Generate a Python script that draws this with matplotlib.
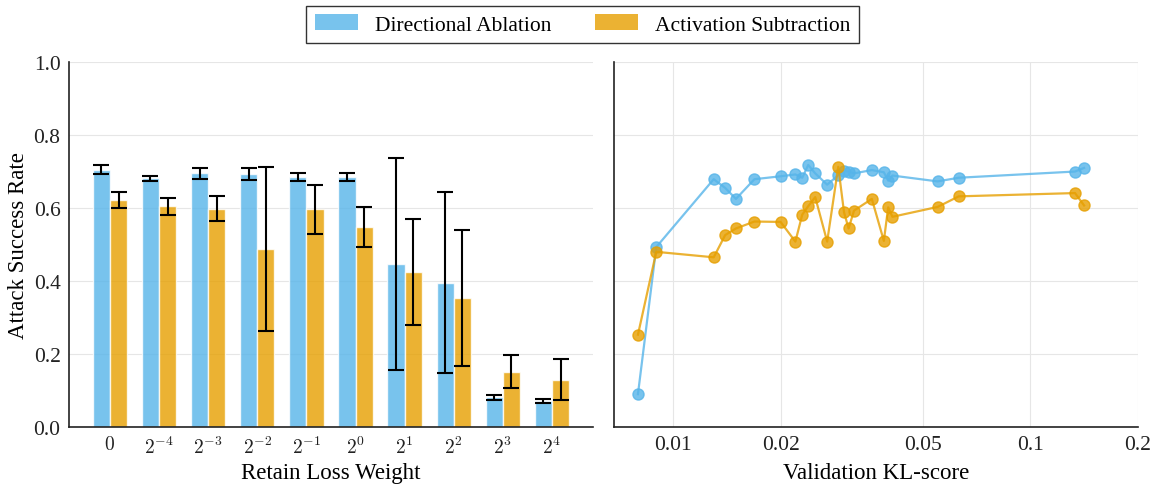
import numpy as np
import matplotlib
matplotlib.use("Agg")
import matplotlib.pyplot as plt
from matplotlib.patches import Patch
from matplotlib.ticker import FixedLocator, FixedFormatter, NullLocator

plt.rcParams["font.family"] = ["Liberation Serif", "DejaVu Serif"]
plt.rcParams["mathtext.fontset"] = "cm"

BLUE = "#56B4E9"
ORANGE = "#E69F00"

# left panel: retain loss weight sweep
weight_labels = ["$0$", "$2^{-4}$", "$2^{-3}$", "$2^{-2}$", "$2^{-1}$",
                 "$2^{0}$", "$2^{1}$", "$2^{2}$", "$2^{3}$", "$2^{4}$"]
ablation_mean = [0.705, 0.682, 0.695, 0.693, 0.684, 0.684, 0.447, 0.395, 0.081, 0.071]
ablation_err = [0.013, 0.007, 0.015, 0.017, 0.011, 0.011, 0.291, 0.248, 0.008, 0.006]
subtraction_mean = [0.623, 0.605, 0.598, 0.488, 0.597, 0.548, 0.425, 0.354, 0.152, 0.129]
subtraction_err = [0.022, 0.023, 0.034, 0.225, 0.067, 0.056, 0.145, 0.187, 0.044, 0.056]

# right panel: ASR vs validation KL
kl_score = [0.00798, 0.00898, 0.0130, 0.0140, 0.0150, 0.0169, 0.0200, 0.0220,
            0.0230, 0.0239, 0.0250, 0.0270, 0.0290, 0.0301, 0.0310, 0.0321,
            0.0360, 0.0389, 0.0400, 0.0411, 0.0550, 0.0630, 0.1333, 0.1413]
ablation_asr = [0.090, 0.493, 0.679, 0.655, 0.625, 0.679, 0.687, 0.692,
                0.683, 0.718, 0.695, 0.664, 0.690, 0.702, 0.700, 0.695,
                0.704, 0.698, 0.675, 0.689, 0.673, 0.683, 0.700, 0.710]
subtraction_asr = [0.253, 0.480, 0.465, 0.526, 0.544, 0.563, 0.562, 0.508,
                   0.582, 0.605, 0.630, 0.508, 0.713, 0.588, 0.544, 0.593,
                   0.625, 0.510, 0.602, 0.576, 0.603, 0.632, 0.641, 0.607]
kl_ticks = [0.01, 0.02, 0.05, 0.1, 0.2]
kl_tick_labels = ["0.01", "0.02", "0.05", "0.1", "0.2"]

fig = plt.figure(figsize=(11.57, 4.85), dpi=100)
ax1 = fig.add_axes([0.0596, 0.1175, 0.4529, 0.7525])
ax2 = fig.add_axes([0.5307, 0.1175, 0.4529, 0.7525], sharey=ax1)

x = np.arange(len(weight_labels))
w = 0.35
err_kw = dict(ecolor="black", elinewidth=1.5, capsize=6, capthick=1.5)
ax1.bar(x - w / 2, ablation_mean, w, yerr=ablation_err, color=BLUE, alpha=0.8,
        edgecolor="white", linewidth=1, error_kw=err_kw, zorder=2)
ax1.bar(x + w / 2, subtraction_mean, w, yerr=subtraction_err, color=ORANGE, alpha=0.8,
        edgecolor="white", linewidth=1, error_kw=err_kw, zorder=2)
ax1.set_xticks(x)
ax1.set_xticklabels(weight_labels, fontsize=14)
ax1.set_ylim(0, 1.0)
ax1.set_yticks([0.0, 0.2, 0.4, 0.6, 0.8, 1.0])
ax1.set_yticklabels(["0.0", "0.2", "0.4", "0.6", "0.8", "1.0"], fontsize=15.5)
ax1.set_xlabel("Retain Loss Weight", fontsize=16.5)
ax1.set_ylabel("Attack Success Rate", fontsize=16.5, labelpad=3)
ax1.grid(axis="y", color="#e6e6e6", linewidth=0.8, zorder=0)
ax1.set_axisbelow(True)

ax2.plot(kl_score, ablation_asr, "-o", color=BLUE, alpha=0.8, lw=1.6, ms=8, zorder=3)
ax2.plot(kl_score, subtraction_asr, "-o", color=ORANGE, alpha=0.8, lw=1.6, ms=8, zorder=3)
ax2.set_xscale("log")
ax2.set_xlim(0.00684, 0.2)
ax2.xaxis.set_major_locator(FixedLocator(kl_ticks))
ax2.xaxis.set_major_formatter(FixedFormatter(kl_tick_labels))
ax2.xaxis.set_minor_locator(NullLocator())
ax2.tick_params(axis="x", labelsize=15.5)
ax2.tick_params(axis="y", labelleft=False)
ax2.set_xlabel("Validation KL-score", fontsize=16.5)
ax2.grid(True, color="#e6e6e6", linewidth=0.8, zorder=0)
ax2.set_axisbelow(True)

for ax in (ax1, ax2):
    ax.spines["top"].set_visible(False)
    ax.spines["right"].set_visible(False)
    ax.spines["left"].set_color("#222222")
    ax.spines["bottom"].set_color("#222222")
    ax.spines["left"].set_linewidth(1.2)
    ax.spines["bottom"].set_linewidth(1.2)
    ax.tick_params(length=0, pad=6, colors="#222222")
    ax.xaxis.set_label_coords(0.5, -0.095)

handles = [Patch(facecolor=BLUE, alpha=0.8), Patch(facecolor=ORANGE, alpha=0.8)]
fig.legend(handles, ["Directional Ablation", "Activation Subtraction"],
           loc="upper center", bbox_to_anchor=(0.5035, 1.008), ncol=2, fontsize=15.5,
           frameon=True, fancybox=False, edgecolor="#333333", framealpha=1,
           columnspacing=2.0, borderpad=0.4)

fig.savefig("out.png", dpi=100)
